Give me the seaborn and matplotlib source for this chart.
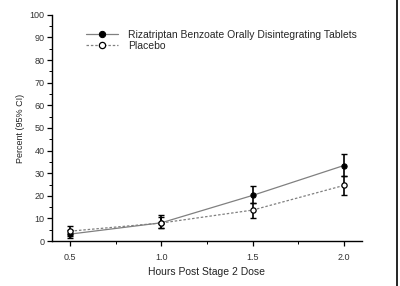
import numpy as np
import pandas as pd
import matplotlib
matplotlib.use("Agg")
import matplotlib.pyplot as plt
from matplotlib.ticker import MultipleLocator
import seaborn as sns

hours = [0.5, 1.0, 1.5, 2.0]
riza = [3.1, 8.1, 20.2, 33.4]
riza_lo = [1.5, 5.6, 16.9, 28.9]
riza_hi = [5.0, 11.5, 24.3, 38.3]
plac = [4.4, 8.0, 13.7, 24.6]
plac_lo = [2.2, 6.0, 10.3, 20.3]
plac_hi = [6.6, 10.5, 16.9, 28.9]
labels = ["Rizatriptan Benzoate Orally Disintegrating Tablets", "Placebo"]

sns.set_style("ticks")
plt.rcParams["font.family"] = ["Liberation Sans", "DejaVu Sans"]

fig = plt.figure(figsize=(4, 2.86), dpi=100)
ax = fig.add_axes([0.13, 0.157, 0.775, 0.791])

df = pd.DataFrame({"Hours": hours * 2, "Percent": riza + plac,
                   "Group": [labels[0]] * 4 + [labels[1]] * 4})

sns.lineplot(data=df[df.Group == labels[0]], x="Hours", y="Percent", ax=ax,
             color="#808080", lw=0.9, marker="o", markersize=3.8,
             markerfacecolor="black", markeredgecolor="black", label=labels[0])
sns.lineplot(data=df[df.Group == labels[1]], x="Hours", y="Percent", ax=ax,
             color="#808080", lw=0.9, linestyle=(0, (2, 1.5)), marker="o", markersize=3.8,
             markerfacecolor="white", markeredgecolor="black", markeredgewidth=0.9,
             label=labels[1])

for y, lo, hi in [(riza, riza_lo, riza_hi), (plac, plac_lo, plac_hi)]:
    y = np.array(y)
    err = [y - np.array(lo), np.array(hi) - y]
    ax.errorbar(hours, y, yerr=err, fmt="none", ecolor="black", elinewidth=1.2,
                capsize=2.2, capthick=1.0, zorder=1)

ax.set_xlim(0.4, 2.1)
ax.set_ylim(0, 100)
ax.set_xticks(hours)
ax.set_xticklabels(["0.5", "1.0", "1.5", "2.0"])
ax.xaxis.set_minor_locator(MultipleLocator(0.25))
ax.yaxis.set_major_locator(MultipleLocator(10))
ax.yaxis.set_minor_locator(MultipleLocator(5))
ax.tick_params(which="major", length=3.5, width=0.9, labelsize=6.5, pad=2,
               color="black", labelcolor="#333333")
ax.tick_params(which="minor", length=2, width=0.7, color="black")
ax.tick_params(axis="x", pad=5)
for s in ["left", "bottom"]:
    ax.spines[s].set_color("black")
    ax.spines[s].set_linewidth(1.0)
sns.despine(ax=ax)

ax.set_xlabel("Hours Post Stage 2 Dose", fontsize=7.5, labelpad=4, color="#222222")
ax.set_ylabel("Percent (95% CI)", fontsize=6.5, labelpad=3, color="#222222")

leg = ax.legend(loc="upper left", bbox_to_anchor=(0.094, 0.958), frameon=False, fontsize=7.5,
                handlelength=3.0, handletextpad=1.0, labelspacing=0.15, borderpad=0)
for h in leg.legend_handles:
    h.set_markersize(4.5)

fig.add_artist(plt.Line2D([0.993, 0.993], [0, 1], color="black", lw=1.2,
                          transform=fig.transFigure))

fig.savefig("out.png", dpi=100)
